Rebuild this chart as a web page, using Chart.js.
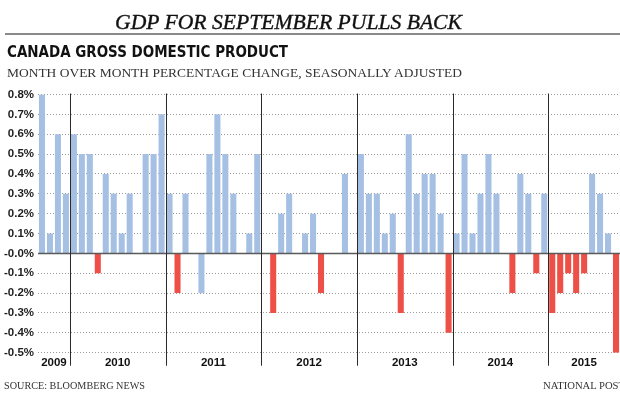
<!DOCTYPE html>
<html>
<head>
<meta charset="utf-8">
<script src="https://cdn.jsdelivr.net/npm/chart.js@4.4.0/dist/chart.umd.min.js"></script>
<style>
  html, body { margin:0; padding:0; background:#fff; width:620px; height:402px; overflow:hidden; }
  #wrap { position:relative; width:620px; height:402px; }
  canvas { position:absolute; left:0; top:0; }
  .t { position:absolute; white-space:nowrap; line-height:1; transform-origin:0 0; z-index:2; }
  #title { left:115px; top:11.5px; font-family:"Liberation Serif", serif; font-style:italic; font-size:20px; color:#111; -webkit-text-stroke:0.35px #111; }
  #rule { position:absolute; left:5px; right:0; top:33px; height:2px; background:#8a8a8a; }
  #heading { left:7px; top:43.5px; font-family:"DejaVu Sans Condensed", "DejaVu Sans", sans-serif; font-weight:bold; font-size:16px; color:#111; }
  #subtitle { left:7px; top:65.6px; font-family:"Liberation Serif", serif; font-size:13.5px; color:#333; }
  #source { left:4px; top:380.7px; font-family:"Liberation Serif", serif; font-size:10.5px; color:#333; }
  #credit { left:543px; top:380.7px; font-family:"Liberation Serif", serif; font-size:10.5px; color:#333; }
</style>
</head>
<body>
<div id="wrap">
  <canvas id="c" width="620" height="402" style="width:620px;height:402px"></canvas>
  <div class="t" id="title" data-w="347">GDP FOR SEPTEMBER PULLS BACK</div>
  <div id="rule"></div>
  <div class="t" id="heading" data-w="281">CANADA GROSS DOMESTIC PRODUCT</div>
  <div class="t" id="subtitle" data-w="455">MONTH OVER MONTH PERCENTAGE CHANGE, SEASONALLY ADJUSTED</div>
  <div class="t" id="source" data-w="141">SOURCE: BLOOMBERG NEWS</div>
  <div class="t" id="credit" data-w="82">NATIONAL POST</div>
</div>
<script>
// ---- data ----
const categories = [
  "2009-09","2009-10","2009-11","2009-12",
  "2010-01","2010-02","2010-03","2010-04","2010-05","2010-06","2010-07","2010-08","2010-09","2010-10","2010-11","2010-12",
  "2011-01","2011-02","2011-03","2011-04","2011-05","2011-06","2011-07","2011-08","2011-09","2011-10","2011-11","2011-12",
  "2012-01","2012-02","2012-03","2012-04","2012-05","2012-06","2012-07","2012-08","2012-09","2012-10","2012-11","2012-12",
  "2013-01","2013-02","2013-03","2013-04","2013-05","2013-06","2013-07","2013-08","2013-09","2013-10","2013-11","2013-12",
  "2014-01","2014-02","2014-03","2014-04","2014-05","2014-06","2014-07","2014-08","2014-09","2014-10","2014-11","2014-12",
  "2015-01","2015-02","2015-03","2015-04","2015-05","2015-06","2015-07","2015-08","2015-09"
];
// month-over-month % change shown in blue
const blueValues = [
  0.8, 0.1, 0.6, 0.3,
  0.6, 0.5, 0.5, null, 0.4, 0.3, 0.1, 0.3, 0, 0.5, 0.5, 0.7,
  0.3, null, 0.3, 0, -0.2, 0.5, 0.7, 0.5, 0.3, 0, 0.1, 0.5,
  0, null, 0.2, 0.3, 0, 0.1, 0.2, null, 0, 0, 0.4, 0,
  0.5, 0.3, 0.3, 0.1, 0.2, null, 0.6, 0.3, 0.4, 0.4, 0.2, null,
  0.1, 0.5, 0.1, 0.3, 0.5, 0.3, 0, null, 0.4, 0.3, null, 0.3,
  null, null, null, null, null, 0.4, 0.3, 0.1, null
];
// month-over-month % change shown in red (declines)
const redValues = [
  null, null, null, null,
  null, null, null, -0.1, null, null, null, null, null, null, null, null,
  null, -0.2, null, null, null, null, null, null, null, null, null, null,
  null, -0.3, null, null, null, null, null, -0.2, null, null, null, null,
  null, null, null, null, null, -0.3, null, null, null, null, null, -0.4,
  null, null, null, null, null, null, null, -0.2, null, null, -0.1, null,
  -0.3, -0.2, -0.1, -0.2, -0.1, null, null, null, -0.5
];
const yTickLabels = ["-0.5%","-0.4%","-0.3%","-0.2%","-0.1%","-0.0%","0.1%","0.2%","0.3%","0.4%","0.5%","0.6%","0.7%","0.8%"];
const yearLabels = ["2009","2010","2011","2012","2013","2014","2015"];

// ---- text fitting ----
function fitTexts(){
  document.querySelectorAll('.t').forEach(el => {
    el.style.transform = 'none';
    const w = el.getBoundingClientRect().width;
    const target = parseFloat(el.dataset.w);
    if (w > 0 && target) el.style.transform = 'scaleX(' + (target / w) + ')';
  });
}
fitTexts();
if (document.fonts && document.fonts.ready) document.fonts.ready.then(fitTexts);

// ---- decorations plugin ----
const yearPlugin = {
  id: 'yearPlugin',
  afterDatasetsDraw(chart) {
    const ctx = chart.ctx, x = chart.scales.x, y = chart.scales.y, area = chart.chartArea;
    ctx.save();
    // zero line
    const y0 = y.getPixelForValue(0);
    ctx.strokeStyle = '#5a5a5a';
    ctx.lineWidth = 1.5;
    ctx.beginPath(); ctx.moveTo(area.left, y0); ctx.lineTo(area.right, y0); ctx.stroke();
    // year separators
    ctx.strokeStyle = '#2a2a2a';
    ctx.lineWidth = 1;
    for (let i = 1; i < categories.length; i++) {
      if (categories[i].slice(0,4) !== categories[i-1].slice(0,4)) {
        const px = Math.round((x.getPixelForValue(i-1) + x.getPixelForValue(i)) / 2) + 0.5;
        ctx.beginPath(); ctx.moveTo(px, area.top - 1); ctx.lineTo(px, area.bottom + 13); ctx.stroke();
      }
    }
    // year labels
    ctx.fillStyle = '#111';
    ctx.font = 'bold 11.5px "Liberation Sans", Arial, sans-serif';
    ctx.textAlign = 'center';
    ctx.textBaseline = 'alphabetic';
    yearLabels.forEach(yr => {
      let a = -1, b = -1;
      categories.forEach((c, i) => { if (c.slice(0,4) === yr) { if (a < 0) a = i; b = i; } });
      if (a < 0) return;
      const cx = (x.getPixelForValue(a) + x.getPixelForValue(b)) / 2;
      ctx.fillText(yr, cx, area.bottom + 13.5);
    });
    ctx.restore();
  }
};

new Chart(document.getElementById('c'), {
  type: 'bar',
  data: {
    labels: categories,
    datasets: [
      { data: blueValues, backgroundColor: '#a6c0e4', borderWidth: 0, barPercentage: 0.76, categoryPercentage: 1.0 },
      { data: redValues, backgroundColor: '#ee5047', borderWidth: 0, barPercentage: 0.76, categoryPercentage: 1.0 }
    ]
  },
  options: {
    responsive: false,
    animation: false,
    layout: { padding: { top: 94.5, bottom: 49.3, left: 0, right: 0 } },
    plugins: { legend: { display: false }, tooltip: { enabled: false } },
    scales: {
      x: { display: false, stacked: true, offset: true },
      y: {
        min: -0.5, max: 0.8,
        afterFit(scale) { scale.width = 38; },
        grid: { color: '#9a9a9a', lineWidth: 1, drawTicks: false },
        border: { display: false, dash: [1, 2] },
        ticks: {
          stepSize: 0.1,
          padding: 4,
          color: '#1e1e1e',
          font: { family: '"Liberation Sans", Arial, sans-serif', weight: 'bold', size: 11.5 },
          callback: (v, i) => yTickLabels[i]
        }
      }
    }
  },
  plugins: [yearPlugin]
});
</script>
</body>
</html>
